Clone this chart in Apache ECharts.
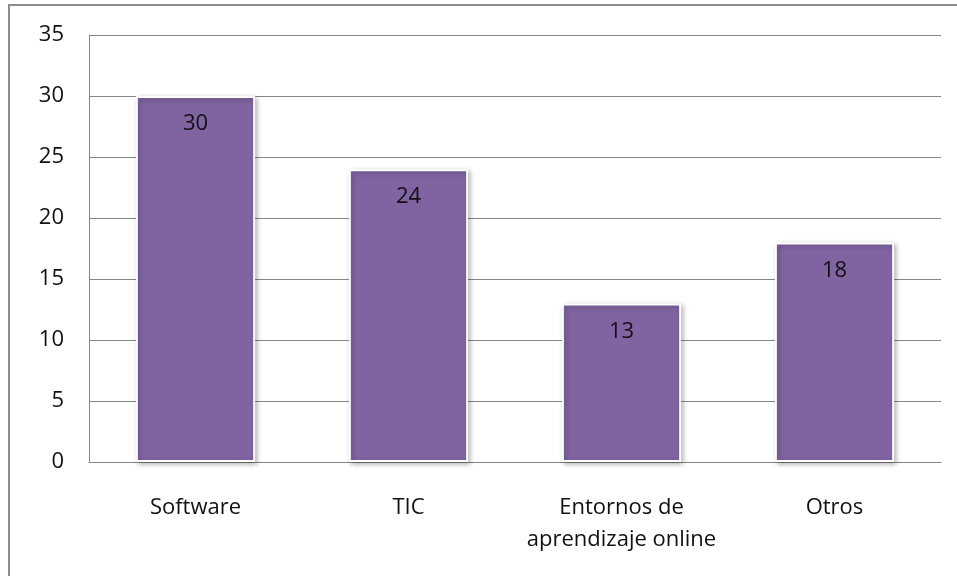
<!DOCTYPE html>
<html><head><meta charset="utf-8">
<script src="https://cdn.jsdelivr.net/npm/echarts@6/dist/echarts.min.js"></script>
<style>html,body{margin:0;padding:0;background:#fff}#c{width:957px;height:576px}</style>
</head><body><div id="c"></div>
<script>
const categories = ['Software', 'TIC', 'Entornos de\naprendizaje online', 'Otros'];
const values = [30, 24, 13, 18];
const yTicks = {min: 0, max: 35, interval: 5};

const chart = echarts.init(document.getElementById('c'));
chart.setOption({
  animation: false,
  backgroundColor: '#fff',
  graphic: [{
    type: 'polyline',
    shape: {points: [[9, 580], [9, 5], [960, 5]]},
    style: {stroke: '#8c8c8c', lineWidth: 2, fill: null}
  }],
  grid: {left: 89, right: 16, top: 35, bottom: 114},
  xAxis: {
    type: 'category',
    data: categories,
    axisLine: {lineStyle: {color: '#868686', width: 1}},
    axisTick: {show: false},
    axisLabel: {color: '#111', fontFamily: 'Open Sans', fontSize: 22, margin: 30, lineHeight: 32, interval: 0}
  },
  yAxis: {
    type: 'value',
    min: yTicks.min, max: yTicks.max, interval: yTicks.interval,
    axisLine: {show: true, lineStyle: {color: '#868686', width: 1}},
    axisTick: {show: false},
    splitLine: {lineStyle: {color: '#868686', width: 1}},
    axisLabel: {color: '#111', fontFamily: 'Open Sans', fontSize: 22, margin: 25}
  },
  series: [{
    type: 'bar',
    data: values,
    barWidth: '56%',
    itemStyle: {
      color: '#8064a2',
      borderColor: '#ffffff',
      borderWidth: 2,
      shadowColor: 'rgba(0,0,0,0.3)',
      shadowBlur: 5,
      shadowOffsetX: 2,
      shadowOffsetY: 2
    },
    label: {show: true, position: 'insideTop', distance: 17, color: '#111', fontFamily: 'Open Sans', fontSize: 22}
  }]
});
</script></body></html>
